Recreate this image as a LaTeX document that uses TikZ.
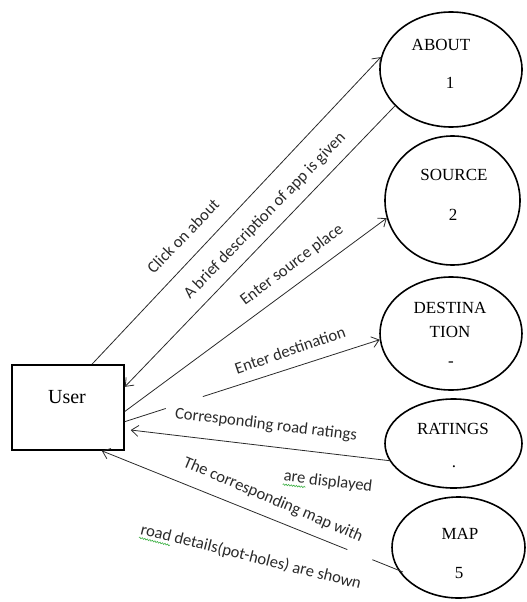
\documentclass[tikz,border=0pt]{standalone}
\usepackage{fontspec}
\setmainfont{Liberation Serif}
\newfontfamily\lblfont{Carlito}
\usetikzlibrary{arrows.meta,shapes.geometric,decorations.pathmorphing}
\definecolor{linegray}{HTML}{2A2A2A}
\definecolor{spellgreen}{HTML}{3CB043}
\begin{document}
\begin{tikzpicture}[x=1pt,y=-1pt,
  proc/.style={ellipse,draw=black,line width=1.6pt,inner sep=0pt},
  flow/.style={draw=linegray,line width=0.8pt,-{Straight Barb[length=7pt,width=11pt]}},
  lbl/.style={font=\lblfont\fontsize{16.6}{19}\selectfont,text=linegray,inner sep=1pt},
  ptxt/.style={font=\fontsize{17}{20}\selectfont,inner sep=0pt},
  spell/.style={draw=spellgreen,line width=0.6pt,decorate,
    decoration={snake,amplitude=0.7pt,segment length=2.6pt}}]
\useasboundingbox (0,0) rectangle (527,602);

% external entity
\node[draw,line width=1.6pt,minimum width=112pt,minimum height=85pt,inner sep=0pt] (user) at (68,407.5) {};
\node[font=\fontsize{20}{24}\selectfont,inner sep=0pt] (usertxt) at (67,397) {User};

% processes
\node[proc,minimum width=142pt,minimum height=115pt] (about) at (451,69.5) {};
\node[proc,minimum width=135pt,minimum height=129pt] (source) at (452.5,200.5) {};
\node[proc,minimum width=142pt,minimum height=113pt] (dest) at (451,333.5) {};
\node[proc,minimum width=137pt,minimum height=89pt] (ratings) at (453.5,443.5) {};
\node[proc,minimum width=133pt,minimum height=101pt] (map) at (458.5,547.5) {};

\node[ptxt] (abouttxt) at (441,45) {ABOUT};
\node[ptxt] (aboutnum) at (450,83) {1};
\node[ptxt] (sourcetxt) at (454,175) {SOURCE};
\node[ptxt] (sourcenum) at (453,215) {2};
\node[ptxt] (desttxt) at (450,308) {DESTINA};
\node[ptxt] (desttxtb) at (450,332) {TION};
\node[ptxt] (destnum) at (451,364) {-};
\node[ptxt] (ratingstxt) at (453,429) {RATINGS};
\node[ptxt,anchor=base] (ratingsnum) at (454,467) {.};
\node[ptxt] (maptxt) at (460,534) {MAP};
\node[ptxt] (mapnum) at (459,573) {5};

% data flows
\draw[flow] (user.61.6) -- (about.170.5);
\draw[flow] (about.213.7) -- (user.20);
\draw[flow] (user.-4.6) -- (source.195);
\draw[flow,dash pattern=on 43pt off 39pt on 400pt] (user.-14.5) -- (dest.185);
\draw[flow,shorten >=6pt] (ratings.195) -- (user.-21.3);
\coordinate (mapin) at (403,572);
\draw[flow,dash pattern=on 33pt off 27pt on 400pt] (mapin) -- (user.-52);

% flow labels
\node[lbl,rotate=46] (l1) at (183,236) {Click on about};
\node[lbl,rotate=46] (l2) at (265,216) {A brief description of app is given};
\node[lbl,rotate=37] (l3) at (292,265) {Enter source place};
\node[lbl,rotate=19] (l4) at (290,350) {Enter destination};
\node[lbl,rotate=-7] (l5) at (266,425) {Corresponding road ratings};
\node[lbl,rotate=-7] (l6) at (328,482) {are displayed};
\node[lbl,rotate=-23] (l7) at (273,500) {The corresponding map with};
\node[lbl,rotate=-14] (l8) at (251,557) {road details(pot-holes) are shown};

% spelling marks under "are" and "road"
\begin{scope}[shift={(l6.base west)},rotate=-7]
  \draw[spell] (1,3.5) -- (24,3.5);
\end{scope}
\begin{scope}[shift={(l8.base west)},rotate=-14]
  \draw[spell] (1,3.5) -- (33,3.5);
\end{scope}
\end{tikzpicture}
\end{document}
